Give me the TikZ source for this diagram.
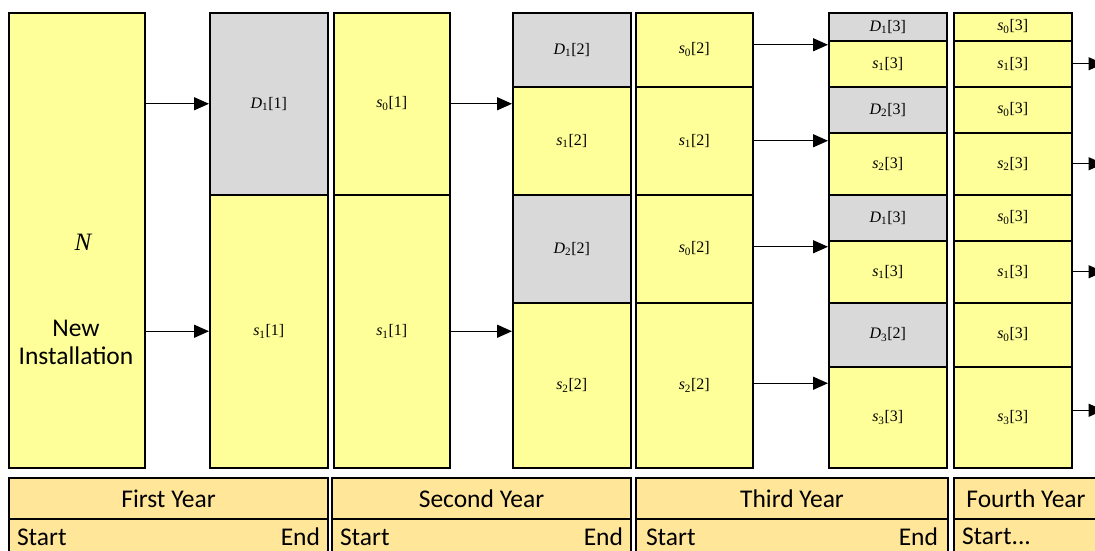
\documentclass[tikz,border=0pt]{standalone}
\usepackage{fontspec}
\setmainfont{Carlito}
\newfontfamily\labfont{Liberation Serif}
\usetikzlibrary{arrows.meta}
\definecolor{cellyellow}{HTML}{FFFF99}
\definecolor{cellgray}{HTML}{D9D9D9}
\definecolor{yearfill}{HTML}{FFE699}
\newcommand{\cellab}[3]{{\labfont\fontsize{16}{18}\selectfont\textit{#1}\textsubscript{#2}[#3]}}

\begin{document}
\begin{tikzpicture}[x=1pt, y=-1pt,
  cell/.style={draw=black, line width=1.5pt, anchor=north west, inner sep=0pt},
  scell/.style={cell, fill=cellyellow},
  dcell/.style={cell, fill=cellgray},
  arr/.style={-{Triangle[length=15pt,width=13pt]}, line width=1.4pt},
  yearbox/.style={draw=black, line width=2pt, fill=yearfill, anchor=north west, inner sep=0pt,
    font=\fontsize{25.5}{30}\selectfont}]
\useasboundingbox (0,0) rectangle (1095,550);

\node[scell, minimum width=136pt, minimum height=455pt] (n) at (8,12) {};
\node[font=\labfont\itshape\fontsize{25}{28}\selectfont] (nlab) at (83,242) {N};
\node[align=center, font=\fontsize{25.5}{28}\selectfont] (newinst) at (76,342) {New\\Installation};

\node[dcell, minimum width=118pt, minimum height=182pt] (a1) at (209,12) {\cellab{D}{1}{1}};
\node[scell, minimum width=118pt, minimum height=273pt] (a2) at (209,194) {\cellab{s}{1}{1}};

\node[scell, minimum width=116pt, minimum height=182pt] (b1) at (333,12) {\cellab{s}{0}{1}};
\node[scell, minimum width=116pt, minimum height=273pt] (b2) at (333,194) {\cellab{s}{1}{1}};

\node[dcell, minimum width=118pt, minimum height=74pt] (c1) at (512,12) {\cellab{D}{1}{2}};
\node[scell, minimum width=118pt, minimum height=108pt] (c2) at (512,86) {\cellab{s}{1}{2}};
\node[dcell, minimum width=118pt, minimum height=108pt] (c3) at (512,194) {\cellab{D}{2}{2}};
\node[scell, minimum width=118pt, minimum height=165pt] (c4) at (512,302) {\cellab{s}{2}{2}};

\node[scell, minimum width=117pt, minimum height=74pt] (d1) at (635,12) {\cellab{s}{0}{2}};
\node[scell, minimum width=117pt, minimum height=108pt] (d2) at (635,86) {\cellab{s}{1}{2}};
\node[scell, minimum width=117pt, minimum height=108pt] (d3) at (635,194) {\cellab{s}{0}{2}};
\node[scell, minimum width=117pt, minimum height=165pt] (d4) at (635,302) {\cellab{s}{2}{2}};

\node[dcell, minimum width=118pt, minimum height=28pt] (e1) at (828,12) {\cellab{D}{1}{3}};
\node[scell, minimum width=118pt, minimum height=46pt] (e2) at (828,40) {\cellab{s}{1}{3}};
\node[dcell, minimum width=118pt, minimum height=46pt] (e3) at (828,86) {\cellab{D}{2}{3}};
\node[scell, minimum width=118pt, minimum height=62pt] (e4) at (828,132) {\cellab{s}{2}{3}};
\node[dcell, minimum width=118pt, minimum height=46pt] (e5) at (828,194) {\cellab{D}{1}{3}};
\node[scell, minimum width=118pt, minimum height=62pt] (e6) at (828,240) {\cellab{s}{1}{3}};
\node[dcell, minimum width=118pt, minimum height=64pt] (e7) at (828,302) {\cellab{D}{3}{2}};
\node[scell, minimum width=118pt, minimum height=101pt] (e8) at (828,366) {\cellab{s}{3}{3}};

\node[scell, minimum width=118pt, minimum height=28pt] (f1) at (953,12) {\cellab{s}{0}{3}};
\node[scell, minimum width=118pt, minimum height=46pt] (f2) at (953,40) {\cellab{s}{1}{3}};
\node[scell, minimum width=118pt, minimum height=46pt] (f3) at (953,86) {\cellab{s}{0}{3}};
\node[scell, minimum width=118pt, minimum height=62pt] (f4) at (953,132) {\cellab{s}{2}{3}};
\node[scell, minimum width=118pt, minimum height=46pt] (f5) at (953,194) {\cellab{s}{0}{3}};
\node[scell, minimum width=118pt, minimum height=62pt] (f6) at (953,240) {\cellab{s}{1}{3}};
\node[scell, minimum width=118pt, minimum height=64pt] (f7) at (953,302) {\cellab{s}{0}{3}};
\node[scell, minimum width=118pt, minimum height=101pt] (f8) at (953,366) {\cellab{s}{3}{3}};

\draw[arr] (n.east |- a1.west) -- (a1.west);
\draw[arr] (n.east |- a2.west) -- (a2.west);
\draw[arr] (b1.east) -- (b1.east -| c2.west);
\draw[arr] (b2.east) -- (b2.east -| c4.west);
\draw[arr] ([yshift=5pt]d1.east) -- ([yshift=5pt]d1.east -| e2.west);
\draw[arr] (d2.east) -- (d2.east -| e4.west);
\draw[arr] ([yshift=2pt]d3.east) -- ([yshift=2pt]d3.east -| e6.west);
\draw[arr] ([yshift=2pt]d4.east) -- ([yshift=2pt]d4.east -| e8.west);
\draw[arr] (f2.east) -- ++(31,0);
\draw[arr] (f4.east) -- ++(31,0);
\draw[arr] (f6.east) -- ++(31,0);
\draw[arr] ([yshift=7pt]f8.east) -- ++(31,0);

\node[yearbox, minimum width=319pt, minimum height=41pt] (y1) at (8,477) {First Year};
\node[yearbox, minimum width=299pt, minimum height=41pt] (y2) at (331,477) {Second Year};
\node[yearbox, minimum width=312pt, minimum height=41pt] (y3) at (635,477) {Third Year};
\node[yearbox, minimum width=144pt, minimum height=41pt] (y4) at (953,477) {Fourth Year};
\node[yearbox, minimum width=319pt, minimum height=35pt, text width=303pt] (r1) at (8,518) {Start\hfill End};
\node[yearbox, minimum width=299pt, minimum height=35pt, text width=283pt] (r2) at (331,518) {Start\hfill End};
\node[yearbox, minimum width=312pt, minimum height=35pt, text width=292pt] (r3) at (635,518) {Start\hfill End};
\node[yearbox, minimum width=144pt, minimum height=35pt, text width=128pt] (r4) at (953,518) {Start...};
\end{tikzpicture}
\end{document}
